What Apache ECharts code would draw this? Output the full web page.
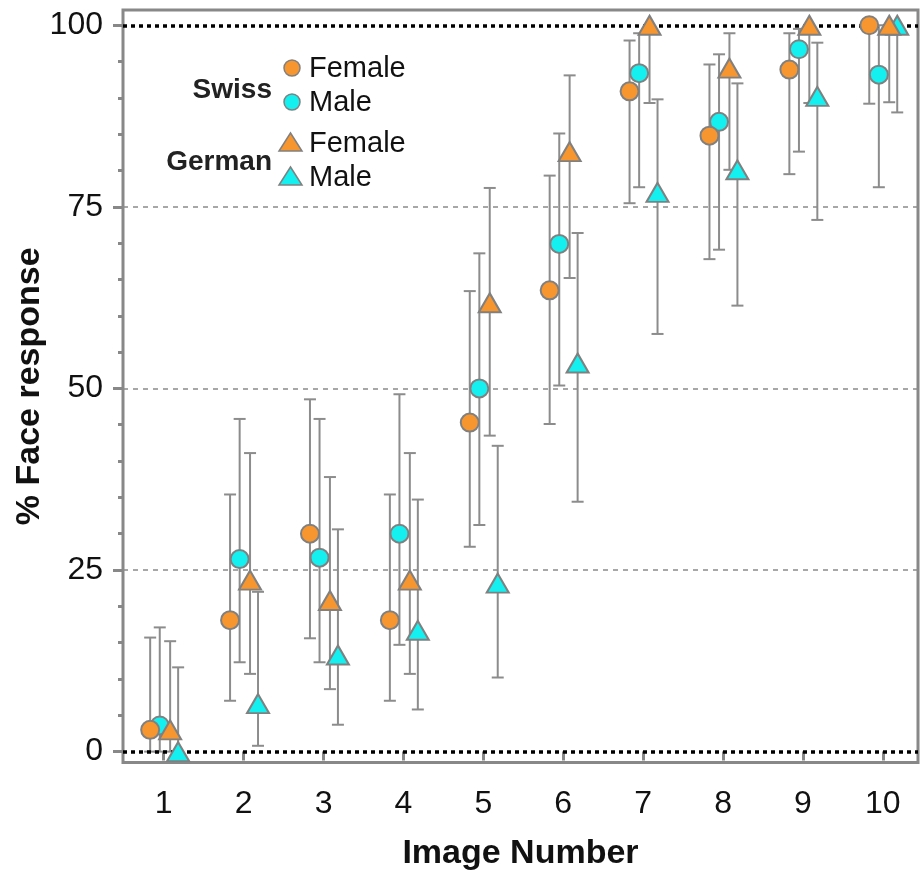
<!DOCTYPE html>
<html>
<head>
<meta charset="utf-8">
<script src="https://cdn.jsdelivr.net/npm/echarts@6/dist/echarts.min.js"></script>
<style>
html,body{margin:0;padding:0;background:#fff;}
#chart{width:920px;height:871px;}
</style>
</head>
<body>
<div id="chart"></div>
<script>
// ---- Data ----
const categories = [1, 2, 3, 4, 5, 6, 7, 8, 9, 10];
const yTicks = [0, 25, 50, 75, 100];
const yMinorTicks = [5, 10, 15, 20, 30, 35, 40, 45, 55, 60, 65, 70, 80, 85, 90, 95];

const swissFemale     = [3.0, 18.1, 30.0, 18.1, 45.3, 63.5, 90.9, 84.8, 93.9, 100];
const swissFemaleLow  = [0, 7.0, 15.6, 7.0, 28.2, 45.1, 75.5, 67.8, 79.5, 89.2];
const swissFemaleHigh = [15.7, 35.4, 48.5, 35.4, 63.4, 79.3, 97.9, 94.6, 98.9, 100];

const swissMale     = [3.6, 26.5, 26.7, 30.0, 50.0, 69.9, 93.4, 86.7, 96.7, 93.2];
const swissMaleLow  = [0, 12.3, 12.3, 14.7, 31.2, 50.4, 77.7, 69.1, 82.6, 77.7];
const swissMaleHigh = [17.1, 45.8, 45.8, 49.2, 68.6, 85.1, 98.9, 96.0, 99.5, 100];

const germanFemale     = [3.0, 23.6, 20.8, 23.6, 61.8, 82.6, 100, 94.1, 100, 100];
const germanFemaleLow  = [0, 10.7, 8.6, 10.7, 43.5, 65.2, 89.3, 80.1, 89.3, 89.4];
const germanFemaleHigh = [15.2, 41.1, 37.8, 41.1, 77.6, 93.1, 100, 98.9, 100, 100];

const germanMale     = [0, 6.6, 13.3, 16.7, 23.2, 53.5, 77.0, 80.1, 90.2, 100];
const germanMaleLow  = [0, 0.8, 3.7, 5.8, 10.2, 34.4, 57.5, 61.4, 73.2, 88.0];
const germanMaleHigh = [11.6, 22.0, 30.6, 34.7, 42.1, 71.4, 89.8, 92.0, 97.6, 100];

// ---- Styling ----
const ORANGE = '#F7952F';
const CYAN = '#14EFEF';
const EDGE = '#808080';
const BAR = '#8c8c8c';
const FONT = 'Liberation Sans, Arial, sans-serif';

function pts(vals, off) { return categories.map((c, i) => [c + off, vals[i]]); }
function bars(vals, lo, hi, off) { return categories.map((c, i) => [c + off, lo[i], hi[i], vals[i]]); }

function errRender(params, api) {
  const x = api.value(0), lo = api.value(1), hi = api.value(2), v = api.value(3);
  const a = api.coord([x, lo]), b = api.coord([x, hi]);
  const half = 6;
  const st = { stroke: BAR, lineWidth: 2 };
  const ch = [{ type: 'line', shape: { x1: a[0], y1: a[1], x2: b[0], y2: b[1] }, style: st }];
  if (lo < v) ch.push({ type: 'line', shape: { x1: a[0] - half, y1: a[1], x2: a[0] + half, y2: a[1] }, style: st });
  if (hi > v) ch.push({ type: 'line', shape: { x1: b[0] - half, y1: b[1], x2: b[0] + half, y2: b[1] }, style: st });
  return { type: 'group', children: ch };
}

const groups = [
  { name: 'SF', v: swissFemale, lo: swissFemaleLow, hi: swissFemaleHigh, off: -0.17, color: ORANGE, sym: 'circle', size: 18 },
  { name: 'SM', v: swissMale, lo: swissMaleLow, hi: swissMaleHigh, off: -0.05, color: CYAN, sym: 'circle', size: 18 },
  { name: 'GF', v: germanFemale, lo: germanFemaleLow, hi: germanFemaleHigh, off: 0.08, color: ORANGE, sym: 'triangle', size: [22, 19] },
  { name: 'GM', v: germanMale, lo: germanMaleLow, hi: germanMaleHigh, off: 0.18, color: CYAN, sym: 'triangle', size: [22, 19] }
];

const series = [];
// reference lines
series.push({
  type: 'line', data: [], z: 2, silent: true,
  markLine: {
    silent: true, symbol: 'none', label: { show: false }, animation: false,
    data: [
      { yAxis: 25, lineStyle: { color: '#8a8a8a', width: 1.5, type: [5, 5] } },
      { yAxis: 50, lineStyle: { color: '#8a8a8a', width: 1.5, type: [5, 5] } },
      { yAxis: 75, lineStyle: { color: '#8a8a8a', width: 1.5, type: [5, 5] } },
      { yAxis: 0, lineStyle: { color: '#000', width: 3.5, type: [4, 4] } },
      { yAxis: 100, lineStyle: { color: '#000', width: 3.5, type: [4, 4] } }
    ]
  }
});
// error bars
groups.forEach(g => {
  series.push({
    type: 'custom', name: g.name + 'err', z: 3, silent: true,
    renderItem: errRender,
    encode: { x: 0, y: [1, 2] },
    data: bars(g.v, g.lo, g.hi, g.off)
  });
});
// markers: males first, then females on top
[1, 3, 0, 2].forEach((k, idx) => {
  const g = groups[k];
  series.push({
    type: 'scatter', name: g.name, z: 5 + idx, clip: false,
    symbol: g.sym, symbolSize: g.size,
    itemStyle: { color: g.color, borderColor: EDGE, borderWidth: 2, opacity: 1 },
    data: pts(g.v, g.off)
  });
});

const chart = echarts.init(document.getElementById('chart'), null, { renderer: 'canvas' });
chart.setOption({
  animation: false,
  backgroundColor: '#fff',
  grid: { left: 123, right: 2, top: 10, bottom: 108.5, show: true, borderColor: '#888', borderWidth: 3, backgroundColor: 'transparent', containLabel: false, outerBoundsMode: 'none' },
  xAxis: {
    type: 'value', min: 0.49, max: 10.44, offset: 4,
    name: 'Image Number', nameLocation: 'middle', nameGap: 70, nameMoveOverlap: false,
    nameTextStyle: { fontFamily: FONT, fontWeight: 'bold', fontSize: 34, color: '#111' },
    axisLine: { show: false },
    axisTick: { show: true, length: 9, customValues: categories, lineStyle: { color: '#888', width: 3 } },
    axisLabel: { customValues: categories, margin: 22, fontFamily: FONT, fontSize: 32, color: '#111' },
    splitLine: { show: false }
  },
  yAxis: [{
    type: 'value', min: -1.5, max: 102.1, position: 'left',
    name: '% Face response', nameLocation: 'middle', nameGap: 76, nameRotate: 90, nameMoveOverlap: false,
    nameTextStyle: { fontFamily: FONT, fontWeight: 'bold', fontSize: 34, color: '#111' },
    axisLine: { show: false },
    axisTick: { show: true, length: 10, customValues: yTicks, lineStyle: { color: '#888', width: 3 } },
    axisLabel: { customValues: yTicks, margin: 20, fontFamily: FONT, fontSize: 32, color: '#111' },
    splitLine: { show: false }
  }, {
    type: 'value', min: -1.5, max: 102.1, position: 'left', offset: 0,
    axisLine: { show: false },
    axisTick: { show: true, length: 5, customValues: yMinorTicks, lineStyle: { color: '#888', width: 3 } },
    axisLabel: { show: false },
    splitLine: { show: false }
  }],
  graphic: [
    { type: 'text', x: 272, y: 90, style: { text: 'Swiss', fontFamily: FONT, fontWeight: 'bold', fontSize: 28, fill: '#222', align: 'right', verticalAlign: 'middle' } },
    { type: 'circle', shape: { cx: 292, cy: 68, r: 8 }, style: { fill: ORANGE, stroke: EDGE, lineWidth: 1.5 } },
    { type: 'text', x: 309, y: 69, style: { text: 'Female', fontFamily: FONT, fontSize: 29, fill: '#111', align: 'left', verticalAlign: 'middle' } },
    { type: 'circle', shape: { cx: 292, cy: 102, r: 8 }, style: { fill: CYAN, stroke: EDGE, lineWidth: 1.5 } },
    { type: 'text', x: 309, y: 103, style: { text: 'Male', fontFamily: FONT, fontSize: 29, fill: '#111', align: 'left', verticalAlign: 'middle' } },
    { type: 'text', x: 272, y: 162, style: { text: 'German', fontFamily: FONT, fontWeight: 'bold', fontSize: 28, fill: '#222', align: 'right', verticalAlign: 'middle' } },
    { type: 'polygon', shape: { points: [[279, 151], [302, 151], [290.5, 133]] }, style: { fill: ORANGE, stroke: EDGE, lineWidth: 1.5 } },
    { type: 'text', x: 309, y: 144, style: { text: 'Female', fontFamily: FONT, fontSize: 29, fill: '#111', align: 'left', verticalAlign: 'middle' } },
    { type: 'polygon', shape: { points: [[279, 185], [302, 185], [290.5, 167]] }, style: { fill: CYAN, stroke: EDGE, lineWidth: 1.5 } },
    { type: 'text', x: 309, y: 178, style: { text: 'Male', fontFamily: FONT, fontSize: 29, fill: '#111', align: 'left', verticalAlign: 'middle' } }
  ],
  series: series
});
</script>
</body>
</html>
